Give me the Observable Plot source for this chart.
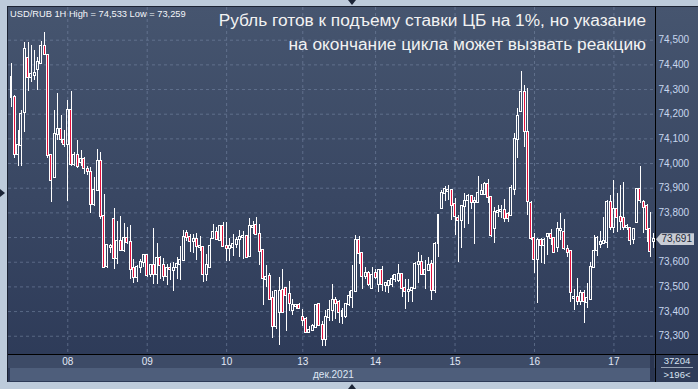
<!DOCTYPE html>
<html><head><meta charset="utf-8">
<script src="https://cdn.jsdelivr.net/npm/d3@7"></script>
<script src="https://cdn.jsdelivr.net/npm/@observablehq/plot@0.6"></script>
<style>
html,body{margin:0;padding:0;background:#bdcbdb;width:698px;height:389px;overflow:hidden;font-family:Arial,"Liberation Sans",sans-serif}
#wrap{position:relative;width:698px;height:389px}
.abs{position:absolute}
#frame{left:7px;top:6px;width:690px;height:375px;background:linear-gradient(#46556f,#2c3957);border-left:1px solid #1c2333;border-top:1px solid #1c2333}
#band1{left:8px;top:355px;width:647px;height:13px;background:#3d4b67}
#band2{left:10px;top:368px;width:640px;height:13px;background:#4e5e7b}
#strip{left:650px;top:355px;width:4px;height:26px;background:#2a3550}
#rpanel{left:656px;top:355px;width:42px;height:26px;background:#2f3c59}
#vline{left:655px;top:7px;width:1px;height:375px;background:#000}
#hline{left:8px;top:354px;width:690px;height:1px;background:#000}
#chart{left:0;top:0}
#hdr{left:10px;top:9px;font-size:9.3px;color:#f4f6fa;white-space:nowrap;line-height:11px}
#title{right:52px;top:8px;font-size:17.3px;line-height:24px;color:#f2f2f2;text-align:right;white-space:nowrap}
#month{left:313px;top:369px;font-size:10px;color:#dfe7f5;line-height:11px}
.vol{left:656px;width:42px;text-align:center;font-size:9.5px;color:#d9e3f2;line-height:10px;height:10px}
#sep{left:661px;top:367px;width:32px;height:1px;background:#9aa6b8}
#last{left:656px;width:36px;height:12px;background:#c9cdd5;color:#1d2838;font-size:10px;line-height:12px;text-align:right;padding-right:2px;clip-path:polygon(0 50%,5px 0,100% 0,100% 100%,5px 100%)}
.tri{width:0;height:0}
</style></head>
<body><div id="wrap">
<div id="frame" class="abs"></div>
<div id="band1" class="abs"></div>
<div id="band2" class="abs"></div>
<div id="strip" class="abs"></div>
<div id="rpanel" class="abs"></div>
<div id="chart" class="abs"></div>
<div id="vline" class="abs"></div>
<div id="hline" class="abs"></div>
<div id="hdr" class="abs">USD/RUB 1H High = 74,533 Low = 73,259</div>
<div id="title" class="abs">Рубль готов к подъему ставки ЦБ на 1%, но указание<br>на окончание цикла может вызвать реакцию</div>
<div id="month" class="abs">дек.2021</div>
<div class="abs vol" style="top:356px">37204</div>
<div id="sep" class="abs"></div>
<div class="abs vol" style="top:370px">&gt;196&lt;</div>
<div class="abs tri" style="left:348px;top:0;border-left:4px solid transparent;border-right:4px solid transparent;border-top:5px solid #1b2436"></div>
<div class="abs tri" style="left:348px;top:384px;border-left:4px solid transparent;border-right:4px solid transparent;border-bottom:5px solid #1b2436"></div>
<div class="abs tri" style="left:0;top:189px;border-top:4px solid transparent;border-bottom:4px solid transparent;border-left:5px solid #1b2436"></div>
</div>
<script>
const open = [74.347,74.266,74.038,74.074,74.207,74.424,74.350,74.356,74.380,74.404,74.476,74.438,74.031,73.943,74.119,74.139,74.092,74.078,74.217,73.997,74.033,74.004,74.017,73.976,73.963,73.834,73.891,74.010,73.786,73.583,73.658,73.773,73.614,73.685,73.647,73.698,73.678,73.576,73.538,73.580,73.597,73.626,73.549,73.586,73.549,73.617,73.586,73.542,73.573,73.566,73.577,73.591,73.608,73.716,73.699,73.685,73.692,73.658,73.661,73.550,73.580,73.696,73.719,73.689,73.746,73.665,73.656,73.661,73.672,73.692,73.699,73.704,73.624,73.739,73.749,73.712,73.647,73.530,73.542,73.451,73.341,73.395,73.487,73.493,73.469,73.406,73.419,73.426,73.374,73.368,73.316,73.324,73.337,73.429,73.345,73.287,73.377,73.406,73.443,73.437,73.400,73.379,73.427,73.457,73.481,73.687,73.637,73.542,73.556,73.495,73.556,73.508,73.565,73.507,73.507,73.511,73.529,73.524,73.549,73.495,73.481,73.487,73.495,73.589,73.599,73.549,73.568,73.589,73.484,73.676,73.819,73.880,73.888,73.889,73.832,73.776,73.768,73.827,73.849,73.865,73.842,73.842,73.876,73.873,73.916,73.862,73.735,73.803,73.807,73.810,73.793,73.789,73.893,74.097,74.211,74.287,74.127,73.837,73.695,73.610,73.688,73.666,73.706,73.712,73.695,73.661,73.728,73.719,73.650,73.645,73.453,73.456,73.442,73.472,73.435,73.450,73.577,73.647,73.672,73.675,73.681,73.843,73.742,73.812,73.780,73.776,73.739,73.735,73.691,73.760,73.893,73.844,73.825,73.731,73.685];
const high = [74.404,74.275,74.133,74.214,74.492,74.492,74.479,74.458,74.431,74.495,74.533,74.441,74.038,74.214,74.282,74.194,74.133,74.255,74.291,74.044,74.092,74.052,74.024,73.990,73.983,73.943,74.055,74.044,73.875,73.671,73.670,73.818,73.766,73.786,73.757,73.739,73.749,73.610,73.586,73.610,73.630,73.630,73.590,73.735,73.675,73.624,73.617,73.590,73.595,73.597,73.618,73.665,73.728,73.728,73.712,73.712,73.716,73.705,73.665,73.631,73.698,73.753,73.742,73.750,73.760,73.760,73.698,73.712,73.699,73.728,73.726,73.708,73.776,73.766,73.782,73.753,73.647,73.588,73.553,73.483,73.487,73.537,73.570,73.499,73.523,73.449,73.426,73.433,73.408,73.374,73.341,73.347,73.429,73.433,73.361,73.404,73.445,73.511,73.457,73.446,73.414,73.430,73.481,73.585,73.707,73.703,73.640,73.578,73.562,73.578,73.572,73.572,73.581,73.518,73.525,73.545,73.551,73.592,73.554,73.529,73.531,73.497,73.599,73.638,73.626,73.605,73.619,73.608,73.680,73.795,73.889,73.905,73.910,73.896,73.859,73.788,73.828,73.880,73.873,73.869,73.862,73.947,73.916,73.923,73.936,73.865,73.823,73.830,73.830,73.853,73.803,73.911,74.123,74.222,74.373,74.316,74.303,73.846,73.715,73.695,73.695,73.695,73.718,73.731,73.702,73.760,73.796,73.772,73.668,73.648,73.488,73.533,73.485,73.485,73.512,73.600,73.709,73.704,73.726,73.783,73.850,73.870,73.931,73.877,73.911,73.924,73.753,73.739,73.735,73.897,73.988,73.850,73.834,73.803,73.715];
const low = [74.228,74.020,73.990,73.990,74.126,74.293,74.329,74.336,74.298,74.400,74.438,74.020,73.841,73.938,74.092,74.082,74.065,73.845,73.990,73.990,73.979,73.987,73.956,73.953,73.797,73.827,73.891,73.773,73.579,73.576,73.637,73.569,73.590,73.644,73.641,73.671,73.529,73.515,73.519,73.556,73.579,73.540,73.540,73.508,73.508,73.529,73.522,73.504,73.526,73.483,73.530,73.526,73.604,73.685,73.641,73.634,73.608,73.645,73.516,73.523,73.577,73.694,73.688,73.685,73.658,73.601,73.604,73.624,73.656,73.618,73.611,73.615,73.622,73.712,73.710,73.588,73.424,73.496,73.445,73.291,73.327,73.264,73.391,73.320,73.401,73.385,73.408,73.408,73.340,73.314,73.314,73.320,73.333,73.339,73.260,73.259,73.361,73.360,73.369,73.352,73.346,73.373,73.419,73.414,73.477,73.592,73.491,73.531,73.500,73.491,73.531,73.477,73.481,73.477,73.473,73.497,73.518,73.518,73.457,73.410,73.437,73.437,73.491,73.514,73.545,73.491,73.565,73.446,73.473,73.619,73.819,73.846,73.849,73.768,73.707,73.599,73.657,73.738,73.754,73.815,73.673,73.842,73.873,73.872,73.838,73.700,73.675,73.783,73.776,73.762,73.762,73.785,73.870,74.019,74.211,74.064,73.789,73.688,73.553,73.434,73.596,73.591,73.627,73.668,73.634,73.641,73.688,73.648,73.620,73.438,73.404,73.425,73.425,73.350,73.411,73.445,73.573,73.623,73.654,73.675,73.654,73.729,73.715,73.722,73.729,73.729,73.729,73.668,73.670,73.756,73.837,73.718,73.681,73.618,73.654];
const close = [74.266,74.038,74.074,74.200,74.462,74.350,74.359,74.363,74.411,74.476,74.441,74.031,73.933,74.119,74.139,74.099,74.078,74.214,73.997,74.033,73.987,74.017,73.979,73.967,73.834,73.891,74.010,73.786,73.579,73.667,73.664,73.614,73.685,73.647,73.696,73.678,73.569,73.538,73.580,73.597,73.626,73.545,73.586,73.549,73.617,73.586,73.542,73.573,73.570,73.573,73.591,73.608,73.701,73.699,73.685,73.692,73.662,73.665,73.550,73.588,73.664,73.719,73.692,73.745,73.665,73.656,73.665,73.672,73.688,73.699,73.705,73.618,73.746,73.746,73.712,73.645,73.534,73.539,73.449,73.341,73.483,73.483,73.395,73.466,73.431,73.423,73.426,73.412,73.364,73.316,73.323,73.338,73.426,73.345,73.287,73.377,73.404,73.446,73.434,73.396,73.380,73.427,73.460,73.480,73.687,73.637,73.542,73.556,73.508,73.545,73.538,73.565,73.508,73.514,73.522,73.531,73.547,73.549,73.495,73.480,73.487,73.495,73.589,73.599,73.549,73.568,73.585,73.484,73.673,73.791,73.880,73.896,73.892,73.828,73.785,73.768,73.827,73.846,73.865,73.842,73.846,73.880,73.885,73.914,73.862,73.707,73.803,73.807,73.810,73.776,73.776,73.898,74.096,74.191,74.287,74.131,73.847,73.695,73.611,73.688,73.666,73.688,73.713,73.695,73.641,73.731,73.732,73.654,73.641,73.476,73.459,73.442,73.472,73.442,73.452,73.577,73.645,73.695,73.680,73.684,73.843,73.739,73.812,73.780,73.766,73.739,73.746,73.688,73.731,73.893,73.850,73.821,73.731,73.645,73.691];
const dayIndex = [17, 41, 65, 88, 110, 134, 158, 182];
const dayLabels = ["08", "09", "10", "13", "14", "15", "16", "17"];
const priceTicks = [73.3, 73.4, 73.5, 73.6, 73.7, 73.8, 73.9, 74.0, 74.1, 74.2, 74.3, 74.4, 74.5];

const candles = open.map((o, i) => ({i, o, h: high[i], l: low[i], c: close[i]}));
const labelOf = new Map(dayIndex.map((d, k) => [d, dayLabels[k]]));
const fmt = v => v.toFixed(3).replace(".", ",");
const grid = "#7a8aa8";
const lastClose = close[close.length - 1];
// the last-price tag hides the tick label it sits on
const labelTicks = priceTicks.filter(t => Math.abs(t - lastClose) > 0.03);

const plot = Plot.plot({
  width: 698, height: 389,
  marginLeft: 8, marginRight: 43, marginTop: 7, marginBottom: 35,
  style: {background: "transparent", fontFamily: "Arial, 'Liberation Sans', sans-serif", fontSize: "10px", overflow: "visible"},
  x: {type: "linear", domain: [-0.906, 194.56]},
  y: {domain: [73.226, 74.6325]},
  marks: [
    Plot.gridY(priceTicks, {stroke: grid, strokeOpacity: 0.55, strokeDasharray: "3,3"}),
    Plot.gridX(dayIndex, {stroke: grid, strokeOpacity: 0.55, strokeDasharray: "3,3"}),
    Plot.ruleX(candles, {x: d => d.i, y1: d => Math.max(d.o, d.c), y2: "h", stroke: "#ffffff", strokeWidth: 1, shapeRendering: "crispEdges"}),
    Plot.ruleX(candles, {x: d => d.i, y1: "l", y2: d => Math.min(d.o, d.c), stroke: "#ffffff", strokeWidth: 1, shapeRendering: "crispEdges"}),
    Plot.rect(candles, {x1: d => d.i - 0.3, x2: d => d.i + 0.3, y1: d => Math.max(d.o, d.c), y2: d => Math.min(d.o, d.c),
      insetTop: -0.5, insetBottom: -0.5,
      fill: d => d.c < d.o ? "#e3123d" : "none", stroke: "#ffffff", strokeWidth: 1, shapeRendering: "crispEdges"}),
    Plot.axisY(labelTicks, {anchor: "right", tickSize: 0, tickPadding: 3, tickFormat: fmt, fill: "#c8d7ee", fontSize: 10}),
    Plot.axisX(dayIndex, {anchor: "bottom", tickSize: 0, tickPadding: 3, tickFormat: d => labelOf.get(d), fill: "#e2e9f6", fontSize: 10})
  ]
});
document.getElementById("chart").appendChild(plot);

const ly = plot.scale("y").apply(lastClose);
const lab = document.createElement("div");
lab.id = "last"; lab.className = "abs";
lab.style.top = (ly - 6) + "px";
lab.textContent = fmt(lastClose);
document.getElementById("wrap").appendChild(lab);
</script>
</body></html>
